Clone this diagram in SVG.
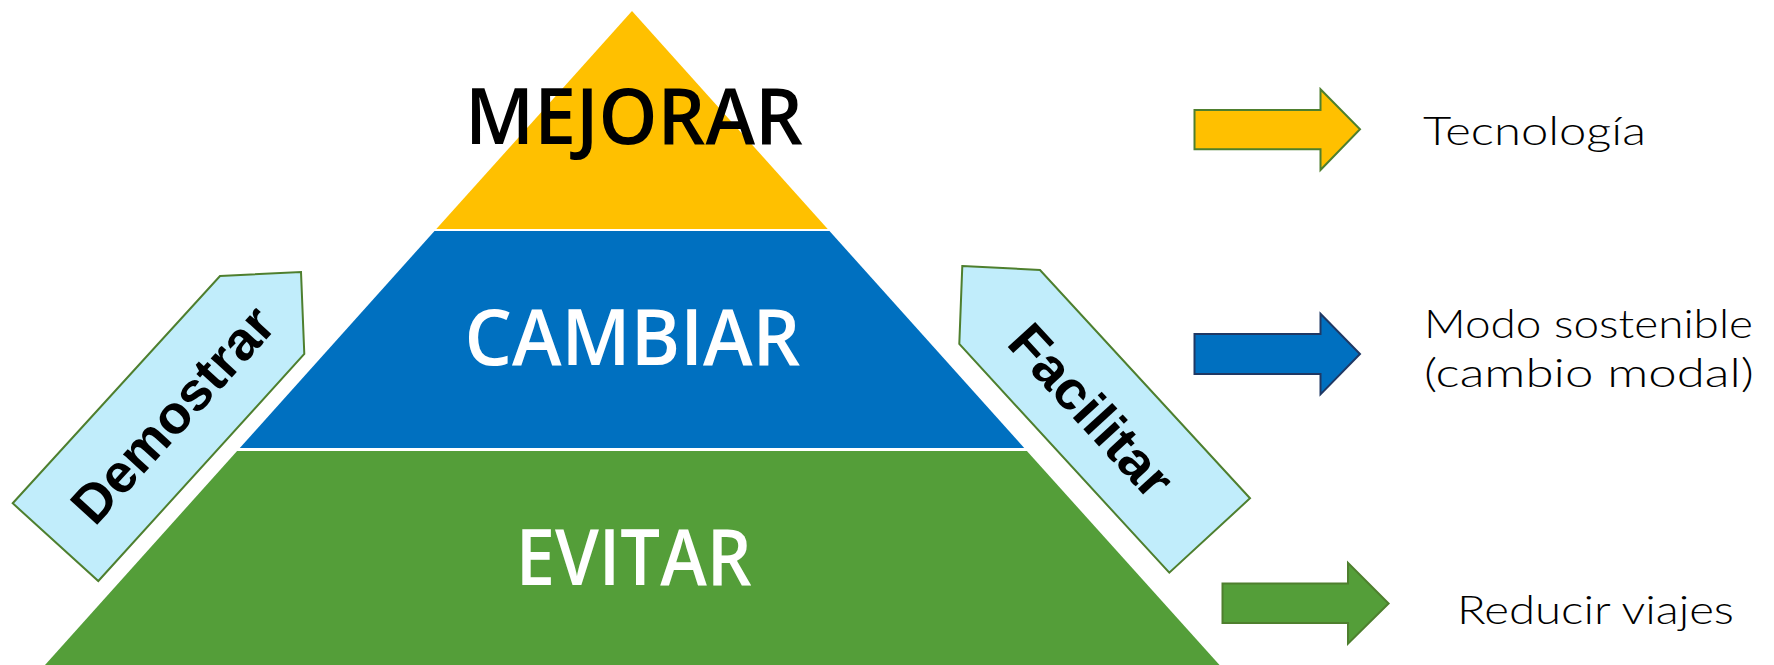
<svg xmlns="http://www.w3.org/2000/svg" width="1774" height="665" viewBox="0 0 1774 665">
<style>
.big{font-family:"Open Sans","Liberation Sans",sans-serif;font-weight:600;font-size:77px;text-anchor:middle}
.side{font-family:Lato,"Open Sans",sans-serif;font-weight:300;font-size:40px;fill:#000}
.tag{fill:#C1EDFB;stroke:#4E7F2E;stroke-width:2;stroke-linejoin:miter}
.tagtxt{font-family:"Liberation Sans",Arial,sans-serif;font-weight:bold;font-size:54px;text-anchor:middle;fill:#000}
</style>
<rect width="1774" height="665" fill="#fff"/>
<g id="mejorar">
<polygon points="632,11 827.7,229 436.3,229" fill="#FFC000"/>
<text class="big" x="634" y="144.3" textLength="338" lengthAdjust="spacingAndGlyphs" fill="#000">MEJORAR</text>
</g>
<g id="cambiar">
<polygon points="434.5,231 829.5,231 1024.2,448 239.8,448" fill="#0070C0"/>
<text class="big" x="632.5" y="364.8" textLength="336" lengthAdjust="spacingAndGlyphs" fill="#fff">CAMBIAR</text>
</g>
<g id="evitar">
<polygon points="237.1,451 1026.9,451 1219.5,665 45,665" fill="#549E39"/>
<text class="big" x="633.7" y="585.3" textLength="236" lengthAdjust="spacingAndGlyphs" fill="#fff">EVITAR</text>
</g>
<g id="demostrar">
<polygon class="tag" points="220,276 301,272 304.3,354 98.3,581 12.7,503.3"/>
<g transform="translate(172,414) rotate(-47.6)">
<text class="tagtxt" x="0" y="19.5" textLength="272" lengthAdjust="spacingAndGlyphs">Demostrar</text>
</g>
</g>
<g id="facilitar">
<polygon class="tag" points="962.3,266 1040,270 1250,498.3 1169.3,572.7 959.3,344"/>
<g transform="translate(1092,410) rotate(47.5)">
<text class="tagtxt" x="0" y="19.5" textLength="214" lengthAdjust="spacingAndGlyphs">Facilitar</text>
</g>
</g>
<g id="connectors">
<polygon points="1194.5,110 1320.5,110 1320.5,89.2 1360,129.3 1320.5,170 1320.5,149.3 1194.5,149.3" fill="#FFC000" stroke="#4E7F2E" stroke-width="2"/>
<polygon points="1194.5,334 1320.5,334 1320.5,313.8 1360,354 1320.5,394.4 1320.5,374 1194.5,374" fill="#0070C0" stroke="#1F3864" stroke-width="2"/>
<polygon points="1222.5,583.6 1348,583.6 1348,562.8 1388.6,603.5 1348,643.6 1348,623 1222.5,623" fill="#549E39" stroke="#4E7F2E" stroke-width="2"/>
</g>
<g id="label-tecnologia">
<text class="side" x="1423" y="144.5" textLength="223" lengthAdjust="spacingAndGlyphs">Tecnología</text>
</g>
<g id="label-modo">
<text class="side" x="1424" y="338" textLength="329" lengthAdjust="spacingAndGlyphs">Modo sostenible</text>
<text class="side" x="1424" y="387" textLength="330" lengthAdjust="spacingAndGlyphs">(cambio modal)</text>
</g>
<g id="label-reducir">
<text class="side" x="1457" y="623.5" textLength="277" lengthAdjust="spacingAndGlyphs">Reducir viajes</text>
</g>
</svg>
